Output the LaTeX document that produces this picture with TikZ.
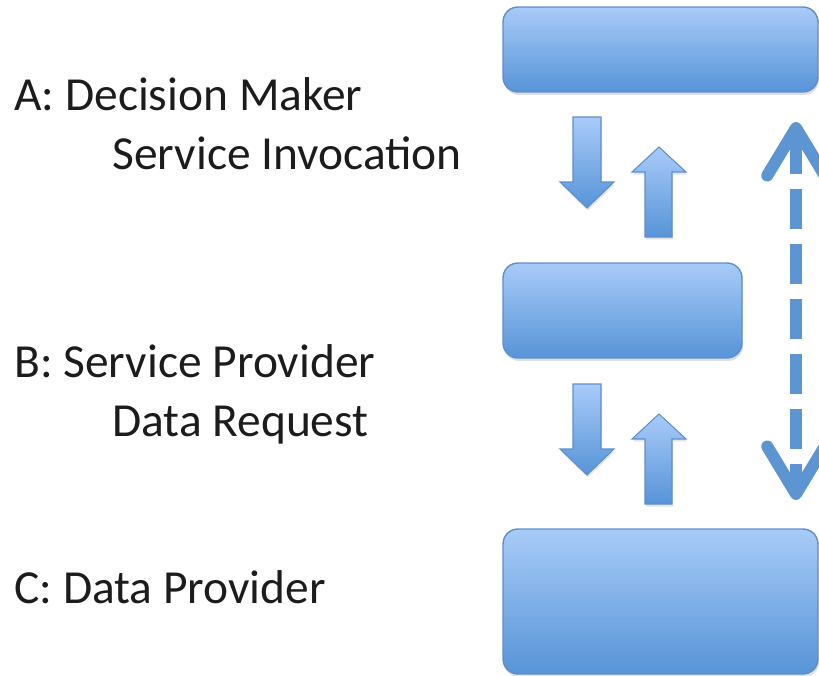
\documentclass[tikz,border=0pt]{standalone}
\usepackage{fontspec}
\setmainfont{Carlito}
\usetikzlibrary{arrows.meta,shadows}

\definecolor{boxtop}{HTML}{A8CBF8}
\definecolor{boxbot}{HTML}{5794D8}
\definecolor{boxline}{HTML}{5E8FCB}
\definecolor{dashblue}{HTML}{5D94D2}
\definecolor{txt}{HTML}{1C1C1C}

\tikzset{
  box/.style={draw=boxline, line width=0.8pt, rounded corners=0.3cm,
    top color=boxtop, bottom color=boxbot,
    drop shadow={shadow xshift=0.02cm, shadow yshift=-0.06cm, opacity=0.25}},
  blockarrow/.style={draw=boxline, line width=0.6pt, line join=miter,
    top color=boxtop, bottom color=boxbot,
    drop shadow={shadow xshift=0.02cm, shadow yshift=-0.05cm, opacity=0.2}},
  dasharrow/.style={draw=dashblue, line width=0.24cm, dash pattern=on 0.8cm off 0.3cm,
    {Straight Barb[length=0.95cm, width=1.15cm, line cap=round, line join=round]}-{Straight Barb[length=0.95cm, width=1.15cm, line cap=round, line join=round]}},
  caption/.style={anchor=base west, inner sep=0pt, text=txt,
    font=\fontsize{27}{33}\selectfont}
}

\begin{document}
\begin{tikzpicture}[x=0.02cm, y=-0.02cm]
	\useasboundingbox (0,0) rectangle (819,676);

	%TEXT
	\node[caption] (lblA) at (14,110) {A: Decision Maker};
	\node[caption] (lblAB) at (112,169) {Service Invocation};
	\node[caption] (lblB) at (14,377) {B: Service Provider};
	\node[caption] (lblBC) at (112,436) {Data Request};
	\node[caption] (lblC) at (14,603) {C: Data Provider};

	%BOXES
	\node[box, minimum width=6.3cm, minimum height=1.7cm] (A) at (660.5,49.5) {};
	\node[box, minimum width=4.78cm, minimum height=1.9cm] (B) at (622.5,310.5) {};
	\node[box, minimum width=6.3cm, minimum height=2.9cm] (C) at (660.5,601.5) {};

	%BLOCK ARROWS
	\foreach \dy in {0,267}{
		\draw[blockarrow] (573,117+\dy) -- (601,117+\dy) -- (601,182+\dy) -- (614,182+\dy)
			-- (587,208+\dy) -- (560,182+\dy) -- (573,182+\dy) -- cycle;
		\draw[blockarrow] (659,147+\dy) -- (686,172+\dy) -- (672,172+\dy) -- (672,237+\dy)
			-- (645,237+\dy) -- (645,172+\dy) -- (632,172+\dy) -- cycle;
	}

	%DASHED ARROW
	\coordinate (dtop) at (796,122);
	\coordinate (dbot) at (796,500);
	\draw[dasharrow] (dtop) -- (dbot);
\end{tikzpicture}
\end{document}
